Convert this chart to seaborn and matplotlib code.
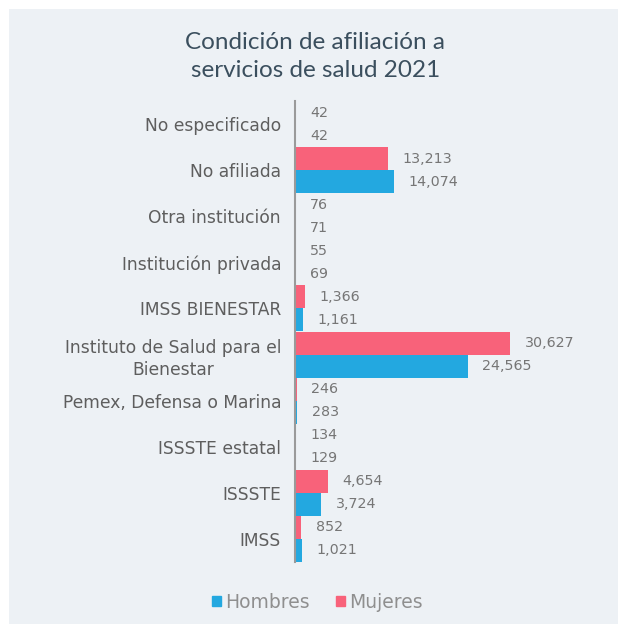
import matplotlib
matplotlib.use("Agg")
import matplotlib.pyplot as plt
from matplotlib.patches import Rectangle
import seaborn as sns
import pandas as pd

categories = ["No especificado", "No afiliada", "Otra institución", "Institución privada",
              "IMSS BIENESTAR", "Instituto de Salud para el\nBienestar",
              "Pemex, Defensa o Marina", "ISSSTE estatal", "ISSSTE", "IMSS"]
mujeres = [42, 13213, 76, 55, 1366, 30627, 246, 134, 4654, 852]
hombres = [42, 14074, 71, 69, 1161, 24565, 283, 129, 3724, 1021]

colors = {"Mujeres": "#F8627A", "Hombres": "#23A8E0"}
bg = "#EDF1F5"

df = pd.concat([
    pd.DataFrame({"cat": categories, "valor": mujeres, "sexo": "Mujeres"}),
    pd.DataFrame({"cat": categories, "valor": hombres, "sexo": "Hombres"}),
])

sns.set_style("white")
plt.rcParams["font.family"] = ["DejaVu Sans"]

fig = plt.figure(figsize=(6.18, 6.24), dpi=100, facecolor="white")
fig.patches.append(Rectangle((9 / 618, 0), 1, 1 - 9 / 624, transform=fig.transFigure,
                             facecolor=bg, edgecolor="none", zorder=-1))
ax = fig.add_axes([295 / 618, 1 - 562 / 624, 0.46, (562 - 101) / 624])
ax.patch.set_alpha(0)

sns.barplot(data=df, y="cat", x="valor", hue="sexo", hue_order=["Mujeres", "Hombres"],
            palette=colors, orient="h", width=1.0, gap=0, saturation=1,
            ax=ax, legend=False, errorbar=None, edgecolor="none")

ax.set_xlim(0, 40450)
ax.set_ylim(9.5, -0.5)
for s in ["top", "right", "bottom"]:
    ax.spines[s].set_visible(False)
ax.spines["left"].set_color("#9a9a9a")
ax.spines["left"].set_linewidth(1.5)
ax.set_xticks([])
ax.set_xlabel("")
ax.set_ylabel("")
ax.tick_params(axis="y", length=0, pad=10)
for lbl in ax.get_yticklabels():
    lbl.set_fontsize(12.3)
    lbl.set_color("#5e5e5e")
    lbl.set_multialignment("center")
    lbl.set_linespacing(1.3)

for cont in ax.containers:
    for bar in cont:
        w = bar.get_width()
        ax.annotate(f"{int(w):,}", (w, bar.get_y() + bar.get_height() / 2),
                    xytext=(10.5, 0), textcoords="offset points",
                    ha="left", va="center", fontsize=10.3, color="#767676")

fig.text(0.51, 0.909, "Condición de afiliación a\nservicios de salud 2021",
         ha="center", va="center", fontsize=17.5, color="#3B4F5E", linespacing=1.42,
         family=["Lato", "DejaVu Sans"])

handles = [Rectangle((0, 0), 1, 1, color=colors["Hombres"]),
           Rectangle((0, 0), 1, 1, color=colors["Mujeres"])]
leg = fig.legend(handles, ["Hombres", "Mujeres"], loc="center", bbox_to_anchor=(0.513, 0.035),
                 ncol=2, frameon=False, handlelength=0.5, handleheight=0.5,
                 handletextpad=0.2, columnspacing=1.4, fontsize=13.5)
for t in leg.get_texts():
    t.set_color("#8f8f8f")

fig.savefig("out.png", dpi=100, facecolor="white")
